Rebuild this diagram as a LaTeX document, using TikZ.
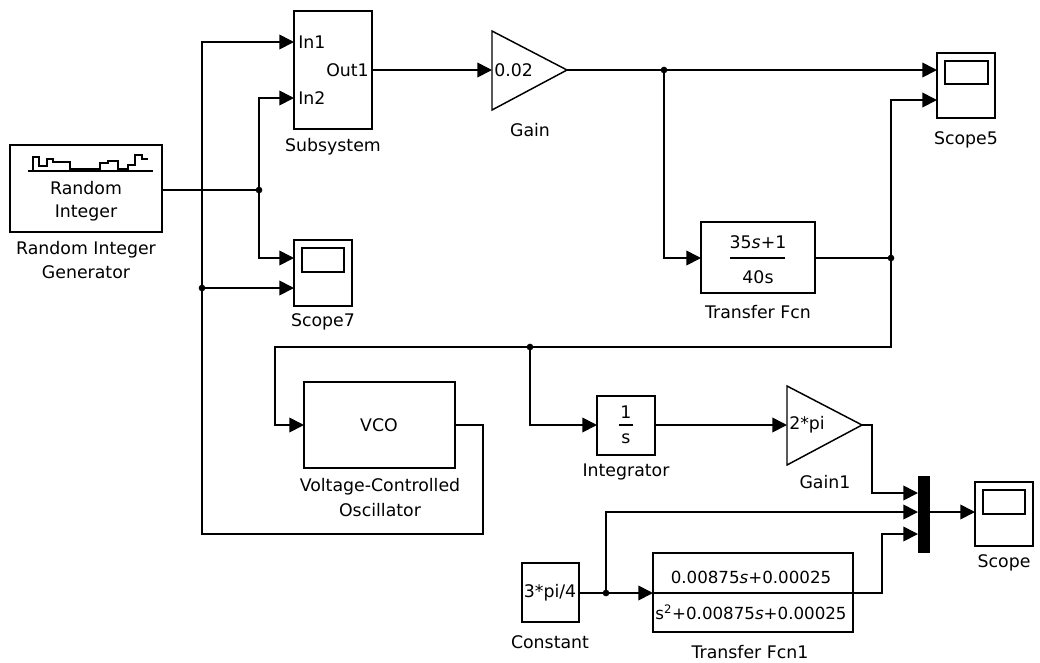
\documentclass[tikz,border=0pt]{standalone}
\usepackage{fontspec}
\setmainfont{DejaVu Sans}
\usetikzlibrary{arrows.meta,fit}
\begin{document}
\begin{tikzpicture}[x=0.75pt,y=-0.75pt,
  every node/.style={font=\fontsize{13}{15}\selectfont},
  blk/.style={draw,line width=1.3pt,inner sep=0pt,fill=white},
  wire/.style={line width=1.3pt},
  sig/.style={wire,-{Triangle[length=11pt,width=11pt]}},
  lbl/.style={inner sep=0pt},
  small/.style={font=\fontsize{12.5}{14}\selectfont},
  jdot/.style={circle,fill,inner sep=0pt,minimum size=5pt}]
\useasboundingbox[fill=white] (0,0) rectangle (1040,662);

% ---------------- blocks ----------------
% Random Integer Generator
\node[blk,fit={(10,145)(162,232)}] (rig) {};
\draw[line width=1pt] (28,171) -- (153,171);
\draw[line width=1pt] (33,171)--(33,157)--(39,157)--(39,166)--(47,166)--(47,159)--(53,159)--(53,162)--(70,162)--(70,169)--(100,169)--(100,163)--(108,163)--(108,161)--(118,161)--(118,169)--(128,169)--(128,165)--(135,165)--(135,155)--(142,155)--(142,159)--(148,159);
\node[lbl] (rigt1) at (86,188) {Random};
\node[lbl] (rigt2) at (86,213) {Integer};
\node[lbl] (rigl1) at (86,250) {Random Integer};
\node[lbl] (rigl2) at (86,272) {Generator};
\coordinate (rig-out) at (162,190);

% Subsystem
\node[blk,fit={(294,11)(372,129)}] (sub) {};
\node[lbl,anchor=west] (subin1) at (298,42) {In1};
\node[lbl,anchor=west] (subin2) at (298,98) {In2};
\node[lbl,anchor=east] (subout1) at (369,70) {Out1};
\node[lbl] (subl) at (333,147) {Subsystem};
\coordinate (sub-in1) at (294,42);
\coordinate (sub-in2) at (294,98);
\coordinate (sub-out) at (372,70);

% Scope7
\node[blk,fit={(294,240)(352,306)}] (sc7) {};
\draw[line width=1.3pt] (302,248) rectangle (344,272);
\node[lbl] (sc7l) at (323,322) {Scope7};
\coordinate (sc7-in1) at (294,258);
\coordinate (sc7-in2) at (294,288);

% Gain
\draw[line width=1.1pt,fill=white] (492,31) -- (492,110) -- (567,70) -- cycle;
\node[lbl,anchor=west] (gaint) at (494,70) {0.02};
\node[lbl] (gainl) at (530,130) {Gain};
\coordinate (gain-in) at (492,70);
\coordinate (gain-out) at (567,70);

% Scope5
\node[blk,fit={(937,53)(995,118)}] (sc5) {};
\draw[line width=1.3pt] (945,61) rectangle (988,84);
\node[lbl] (sc5l) at (966,140) {Scope5};
\coordinate (sc5-in1) at (937,70);
\coordinate (sc5-in2) at (937,100);

% Transfer Fcn
\node[blk,fit={(701,222)(815,293)}] (tf) {};
\draw[line width=1.1pt] (730,258) -- (785,258);
\node[lbl] (tfn) at (758,242) {35\textit{s}+1};
\node[lbl] (tfd) at (758,277) {40s};
\node[lbl] (tfl) at (758,312) {Transfer Fcn};
\coordinate (tf-in) at (701,258);
\coordinate (tf-out) at (815,258);

% VCO
\node[blk,fit={(304,382)(455,468)}] (vco) {};
\node[lbl] (vcot) at (379,425) {VCO};
\node[lbl] (vcol1) at (380,487) {Voltage-Controlled};
\node[lbl] (vcol2) at (380,510) {Oscillator};
\coordinate (vco-in) at (304,425);
\coordinate (vco-out) at (455,425);

% Integrator
\node[blk,fit={(597,396)(655,455)}] (int) {};
\draw[line width=1.1pt] (619,425) -- (633,425);
\node[lbl] (intn) at (626,412) {1};
\node[lbl] (intd) at (626,439) {s};
\node[lbl] (intl) at (626,472) {Integrator};
\coordinate (int-in) at (597,425);
\coordinate (int-out) at (655,425);

% Gain1
\draw[line width=1.1pt,fill=white] (787,386) -- (787,465) -- (862,425) -- cycle;
\node[lbl,anchor=west] (g1t) at (789,425) {2*pi};
\node[lbl] (g1l) at (825,482) {Gain1};
\coordinate (g1-in) at (787,425);
\coordinate (g1-out) at (862,425);

% Mux
\node[draw,fill=black,inner sep=0pt,fit={(918,476)(929,552)}] (mux) {};
\coordinate (mux-in1) at (918,493);
\coordinate (mux-in2) at (918,512);
\coordinate (mux-in3) at (918,534);
\coordinate (mux-out) at (929,512);

% Scope
\node[blk,fit={(975,482)(1033,546)}] (sc) {};
\draw[line width=1.3pt] (983,490) rectangle (1025,514);
\node[lbl] (scl) at (1004,563) {Scope};
\coordinate (sc-in) at (975,512);

% Constant
\node[blk,fit={(522,563)(579,622)}] (con) {};
\node[lbl] (cont) at (550,593) {3*pi/4};
\node[lbl] (conl) at (550,642) {Constant};
\coordinate (con-out) at (579,593);

% Transfer Fcn1
\node[blk,fit={(653,553)(853,632)}] (tf1) {};
\draw[line width=1.1pt] (653,593) -- (853,593);
\node[lbl,small] (tf1n) at (751,577) {0.00875\textit{s}+0.00025};
\node[lbl,small] (tf1d) at (751,612) {s\textsuperscript{2}+0.00875\textit{s}+0.00025};
\node[lbl] (tf1l) at (750,652) {Transfer Fcn1};
\coordinate (tf1-in) at (653,593);
\coordinate (tf1-out) at (853,593);

% ---------------- junctions ----------------
\node[jdot] (j1) at (259,190) {};
\node[jdot] (j2) at (664,70) {};
\node[jdot] (j3) at (891,258) {};
\node[jdot] (j4) at (530,347) {};
\node[jdot] (j5) at (606,593) {};
\node[jdot] (j6) at (202,288) {};
\coordinate (bend1) at (275,347);
\coordinate (loopc) at (483,534);
\coordinate (loopd) at (202,534);

% ---------------- connectors ----------------
\draw[wire] (rig-out) -- (j1.center);
\draw[sig] (j1.center) |- (sub-in2);
\draw[sig] (j1.center) |- (sc7-in1);
\draw[sig] (vco-out) -| (loopc) -- (loopd) |- (sub-in1);
\draw[sig] (j6.center) -- (sc7-in2);
\draw[sig] (sub-out) -- (gain-in);
\draw[sig] (gain-out) -- (sc5-in1);
\draw[sig] (j2.center) |- (tf-in);
\draw[wire] (tf-out) -- (j3.center);
\draw[sig] (j3.center) |- (sc5-in2);
\draw[sig] (j3.center) |- (bend1) |- (vco-in);
\draw[sig] (j4.center) |- (int-in);
\draw[sig] (int-out) -- (g1-in);
\draw[sig] (g1-out) -- ++(10,0) |- (mux-in1);
\draw[sig] (mux-out) -- (sc-in);
\draw[wire] (con-out) -- (j5.center);
\draw[sig] (j5.center) -- (tf1-in);
\draw[sig] (j5.center) |- (mux-in2);
\draw[sig] (tf1-out) -- ++(29,0) |- (mux-in3);
\end{tikzpicture}
\end{document}
